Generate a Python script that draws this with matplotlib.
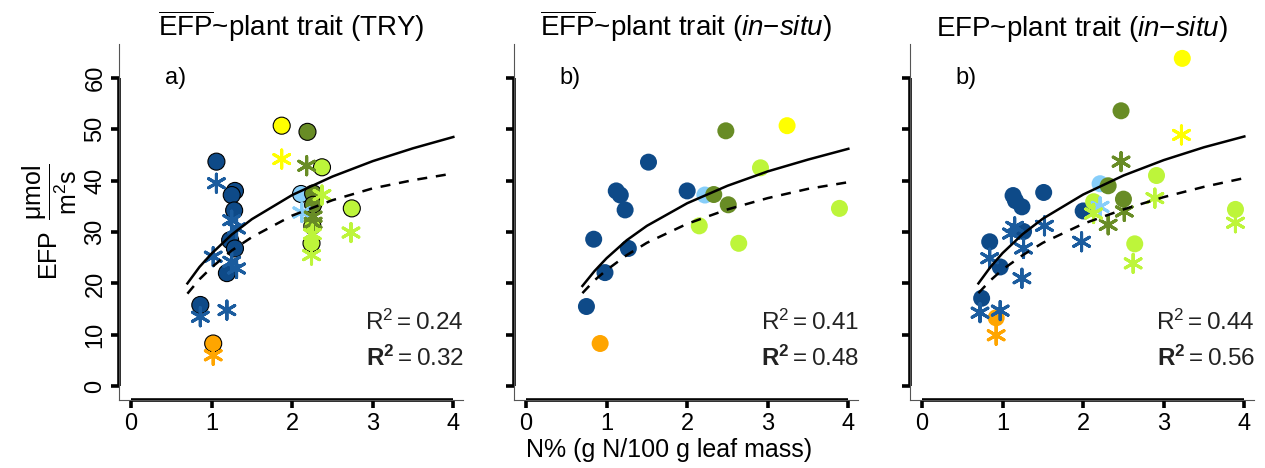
#libraries
import numpy as np
import matplotlib.pyplot as plt

plt.rcParams['font.family'] = 'Liberation Sans'
plt.rcParams['mathtext.fontset'] = 'custom'
plt.rcParams['mathtext.rm'] = 'Liberation Sans'
plt.rcParams['mathtext.it'] = 'Liberation Sans:italic'
plt.rcParams['mathtext.bf'] = 'Liberation Sans:bold'

#colour codes used by the points
pal = {'db': '#0E4A88', 'lb': '#87CEFA', 'ol': '#688C25', 'li': '#BDF53A',
       'ye': '#FFFF00', 'or': '#FFA500'}
star_pal = dict(pal, db='#1B5C9E')

#panel a) TRY data
a_circ_x = [1.06, 1.29, 1.25, 1.28, 1.23, 1.29, 1.19, 0.86, 1.02,
            1.87, 2.19, 2.37, 2.11, 2.26, 2.26, 2.25, 2.24, 2.74]
a_circ_y = [43.7, 38.0, 37.2, 34.2, 28.4, 26.8, 22.0, 15.8, 8.3,
            50.7, 49.5, 42.6, 37.4, 37.5, 35.3, 31.2, 27.8, 34.6]
a_circ_c = ['db', 'db', 'db', 'db', 'db', 'db', 'db', 'db', 'or',
            'ye', 'ol', 'li', 'lb', 'ol', 'ol', 'li', 'li', 'li']
a_star_x = [1.06, 1.25, 1.31, 1.02, 1.25, 1.31, 0.86, 1.19, 1.02,
            1.87, 2.18, 2.37, 2.12, 2.26, 2.26, 2.24, 2.25, 2.73]
a_star_y = [39.5, 32.3, 30.7, 25.2, 24.2, 22.9, 13.5, 14.8, 6.0,
            44.2, 42.9, 37.2, 33.8, 33.0, 31.8, 25.5, 29.6, 29.9]
a_star_c = ['db', 'db', 'db', 'db', 'db', 'db', 'db', 'db', 'or',
            'ye', 'ol', 'li', 'lb', 'ol', 'ol', 'li', 'li', 'li']

#panel b) in-situ means
b_circ_x = [0.75, 0.92, 0.84, 0.98, 1.12, 1.17, 1.23, 1.27, 1.52, 2.00,
            2.22, 2.33, 2.51, 2.48, 3.24, 2.91, 2.15, 2.64, 3.89]
b_circ_y = [15.5, 8.3, 28.6, 22.1, 38.0, 37.2, 34.3, 26.8, 43.6, 38.0,
            37.2, 37.3, 35.3, 49.7, 50.7, 42.5, 31.2, 27.8, 34.6]
b_circ_c = ['db', 'or', 'db', 'db', 'db', 'db', 'db', 'db', 'db', 'db',
            'lb', 'ol', 'ol', 'ol', 'ye', 'li', 'li', 'li', 'li']

#panel b) in-situ all
c_circ_x = [0.74, 0.92, 0.97, 0.84, 1.26, 1.13, 1.16, 1.24, 1.51, 2.00,
            2.21, 2.31, 2.50, 2.47, 3.23, 2.91, 2.13, 2.64, 3.89]
c_circ_y = [17.1, 13.3, 23.2, 28.1, 30.1, 37.1, 36.1, 34.9, 37.7, 34.1,
            39.4, 39.0, 36.4, 53.6, 63.8, 41.0, 35.9, 27.7, 34.4]
c_circ_c = ['db', 'or', 'db', 'db', 'db', 'db', 'db', 'db', 'db', 'db',
            'lb', 'ol', 'ol', 'ol', 'ye', 'li', 'li', 'li', 'li']
c_star_x = [0.72, 0.97, 0.92, 0.84, 1.24, 1.26, 1.11, 1.15, 1.52, 1.98,
            2.21, 2.31, 2.51, 2.47, 3.22, 2.89, 2.13, 2.62, 3.89]
c_star_y = [14.3, 14.7, 9.9, 24.9, 21.0, 26.8, 29.7, 31.0, 31.2, 28.1,
            34.9, 31.4, 34.0, 43.7, 48.9, 36.6, 33.6, 23.9, 31.8]
c_star_c = ['db', 'db', 'or', 'db', 'db', 'db', 'db', 'db', 'db', 'db',
            'lb', 'ol', 'ol', 'ol', 'ye', 'li', 'li', 'li', 'li']

#fitted curves
fit_x = [0.7, 0.85, 1.0, 1.25, 1.5, 2.0, 2.5, 3.0, 3.5, 4.0]
a_solid = [20.0, 23.2, 25.8, 29.5, 32.5, 37.2, 40.8, 43.8, 46.3, 48.5]
a_dash = [18.0, 20.8, 23.1, 26.4, 29.0, 33.2, 36.2, 38.5, 40.1, 41.4]
b_solid = [19.5, 22.4, 24.9, 28.4, 31.2, 35.6, 39.0, 41.8, 44.1, 46.2]
b_dash = [18.1, 20.6, 22.6, 25.5, 27.9, 31.6, 34.4, 36.6, 38.4, 39.7]
c_solid = [20.0, 23.2, 25.9, 29.6, 32.6, 37.3, 41.0, 44.0, 46.5, 48.6]
c_dash = [18.1, 20.6, 22.7, 25.5, 27.9, 31.6, 34.4, 36.8, 38.8, 40.5]

r2_plain = ['0.24', '0.41', '0.44']
r2_bold = ['0.32', '0.48', '0.56']
titles = [r'$\overline{\mathrm{EFP}}$~plant trait (TRY)',
          r'$\overline{\mathrm{EFP}}$~plant trait ($\mathit{in}$' + '\u2212' + r'$\mathit{situ}$)',
          r'EFP~plant trait ($\mathit{in}$' + '\u2212' + r'$\mathit{situ}$)']
letters = ['a)', 'b)', 'b)']

fig = plt.figure(figsize=(12.65, 4.68), dpi=100)
lefts = [119, 514, 910]
axes = []
for i, lp in enumerate(lefts):
    ax = fig.add_axes([lp / 1265, 1 - 400 / 468, 344 / 1265, 356 / 468])
    axes.append(ax)

xmin, xmax = -0.149, 4.12
ymin, ymax = -2.7, 66.6

panels = [
    (a_circ_x, a_circ_y, a_circ_c, a_star_x, a_star_y, a_star_c, a_solid, a_dash, True),
    (b_circ_x, b_circ_y, b_circ_c, None, None, None, b_solid, b_dash, False),
    (c_circ_x, c_circ_y, c_circ_c, c_star_x, c_star_y, c_star_c, c_solid, c_dash, False),
]

for i, ax in enumerate(axes):
    cx, cy, cc, sx, sy, sc, solid, dash, edged = panels[i]
    ax.set_xlim(xmin, xmax)
    ax.set_ylim(ymin, ymax)
    #thin R style box lines
    for s in ['top', 'right']:
        ax.spines[s].set_visible(False)
    for s in ['left', 'bottom']:
        ax.spines[s].set_color('#555555')
        ax.spines[s].set_linewidth(0.8)
    #thick axis lines over tick range
    ax.plot([xmin, xmin], [0, 60], color='black', lw=2.6, clip_on=False, solid_capstyle='butt')
    ax.plot([0, 4], [ymin, ymin], color='black', lw=2.6, clip_on=False, solid_capstyle='butt')
    ax.set_xticks([0, 1, 2, 3, 4])
    ax.set_yticks([0, 10, 20, 30, 40, 50, 60])
    ax.tick_params(width=2.6, length=6, labelsize=17, color='black', pad=3)
    if i == 0:
        ax.set_yticklabels(['0', '10', '20', '30', '40', '50', '60'], rotation=90, va='center')
    else:
        ax.set_yticklabels([])

    #points
    fc = [pal[k] for k in cc]
    if edged:
        ax.scatter(cx, cy, s=150, c=fc, edgecolors='black', linewidths=0.8, zorder=3)
    else:
        ax.scatter(cx, cy, s=150, c=fc, edgecolors='none', zorder=3)
    if sx is not None:
        ax.scatter(sx, sy, s=170, c=[star_pal[k] for k in sc], marker=(6, 2, 0),
                   linewidths=2.2, zorder=4)

    #fit curves
    ax.plot(fit_x, solid, color='black', lw=1.8, zorder=5)
    ax.plot(fit_x, dash, color='black', lw=1.8, ls=(0, (4, 3.5)), zorder=5)

    ax.text(0.55, 60, letters[i], fontsize=17, ha='center', va='center')
    ax.text(4.13, 12.5, r'$\mathrm{R}^2 = \mathrm{' + r2_plain[i] + '}$', fontsize=17.5,
            ha='right', va='center', color='#222222')
    ax.text(4.13, 5.5, r'$\mathbf{R}^\mathbf{2} = \mathrm{' + r2_bold[i] + '}$', fontsize=17.5,
            ha='right', va='center', color='#222222')
    ax.set_title(titles[i], fontsize=20, pad=5)

fig.text(669 / 1265, 1 - 450 / 468, 'N% (g N/100 g leaf mass)', fontsize=18,
         ha='center', va='center')
axes[0].set_ylabel(r'EFP$\;\;\dfrac{\mathrm{\mu mol}}{\mathrm{m^2s}}$', fontsize=18, labelpad=4)

plt.savefig('out.png', dpi=100)
